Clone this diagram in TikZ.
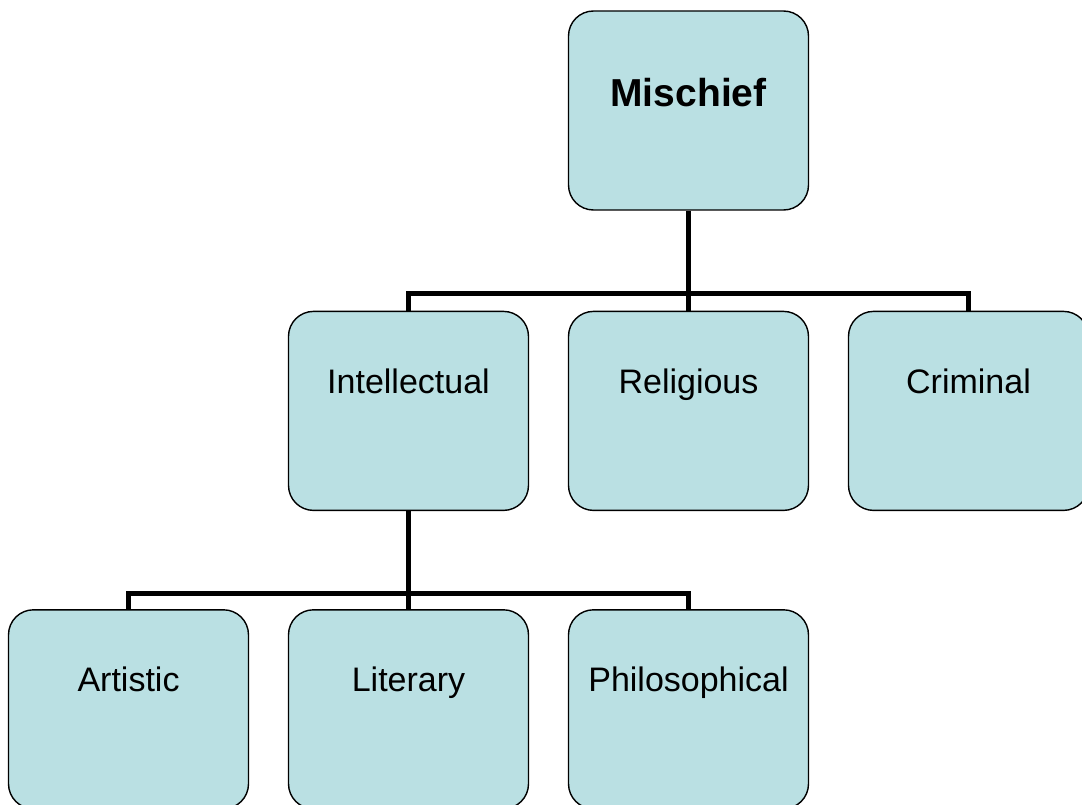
\documentclass[tikz,border=0pt]{standalone}
\usepackage{fontspec}
\setmainfont{Liberation Sans}
\usetikzlibrary{positioning}

\definecolor{boxfill}{RGB}{186,224,227}

\tikzset{
  box/.style={draw, line width=1.4pt, fill=boxfill, rounded corners=25pt,
    minimum width=240pt, inner sep=0pt, text height=82pt, text depth=117pt,
    font=\fontsize{34}{40}\selectfont},
  wire/.style={line width=5pt}
}

\begin{document}
\begin{tikzpicture}[x=1pt,y=1pt]
\useasboundingbox (0,0) rectangle (1082,-805);

\node[box, text height=96pt, text depth=103pt, font=\fontsize{39}{44}\selectfont\bfseries] (mis) at (688.5,-110.5) {Mischief};
\node[box, below=100pt of mis] (rel) {Religious};
\node[box, left=38.6pt of rel] (intel) {Intellectual};
\node[box, right=38.6pt of rel] (crim) {Criminal};
\node[box, below=98pt of intel] (lit) {Literary};
\node[box, left=38.6pt of lit] (art) {Artistic};
\node[box, right=38.6pt of lit] (phil) {Philosophical};

% buses
\coordinate (bus1) at ([yshift=-83pt]mis.south);
\coordinate (bus2) at ([yshift=-82pt]intel.south);

\draw[wire] (mis.south) -- (bus1);
\draw[wire] (intel.north) |- (bus1);
\draw[wire] (crim.north) |- (bus1);
\draw[wire] (rel.north) -- (bus1);

\draw[wire] (intel.south) -- (bus2);
\draw[wire] (art.north) |- (bus2);
\draw[wire] (phil.north) |- (bus2);
\draw[wire] (lit.north) -- (bus2);
\end{tikzpicture}
\end{document}
